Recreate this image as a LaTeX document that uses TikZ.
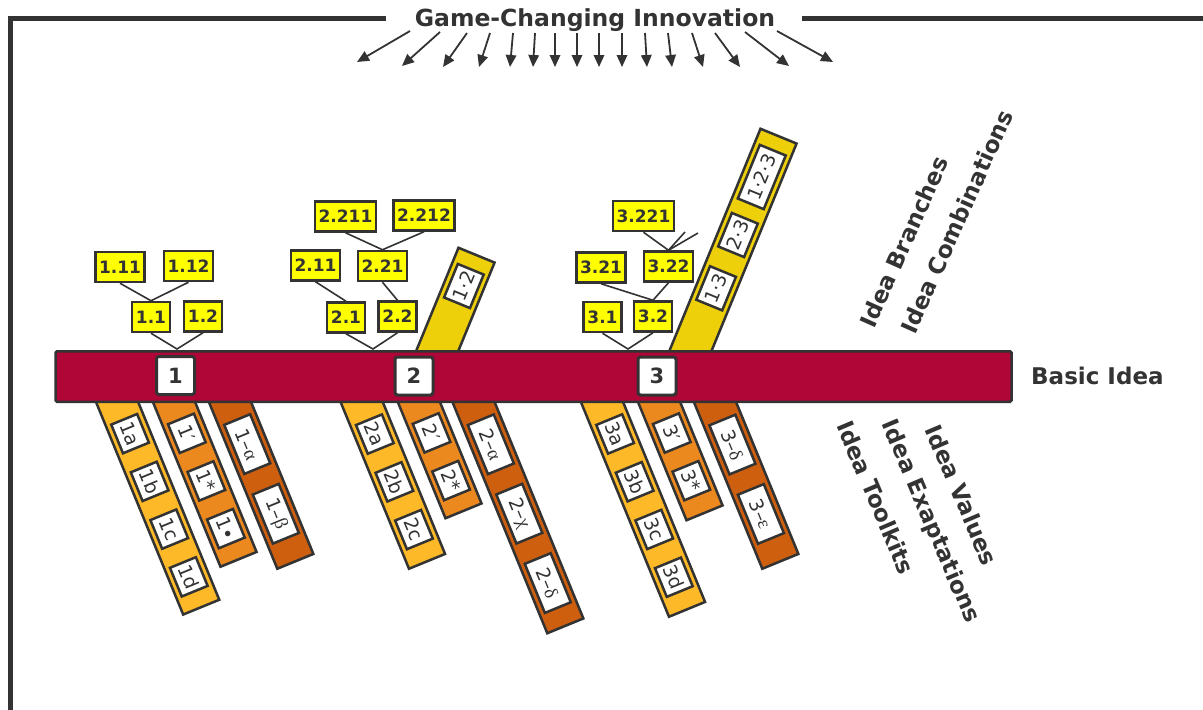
\documentclass[tikz,border=0pt]{standalone}
\usepackage{fontspec}
\setmainfont{DejaVu Sans}
\newfontfamily\greekserif{Liberation Serif}
\usetikzlibrary{arrows.meta,calc}

\definecolor{ink}{HTML}{333333}
\definecolor{crimson}{RGB}{175,5,55}
\definecolor{gold}{RGB}{253,185,39}
\definecolor{tangerine}{RGB}{236,137,30}
\definecolor{rust}{RGB}{205,95,14}
\definecolor{mustard}{RGB}{237,207,10}
\definecolor{lemon}{RGB}{255,255,0}

\newcommand{\gk}[1]{{\greekserif #1}}

\begin{document}
\begin{tikzpicture}[x=1pt,y=-1pt,
  frame/.style={draw=ink,line width=5pt,line join=miter},
  fan/.style={draw=ink,line width=1.8pt,-{Triangle[length=12pt,width=10.5pt]}},
  basebar/.style={draw=ink,line width=2.5pt,fill=crimson,rounded corners=1.5pt,inner sep=0pt},
  numbox/.style={draw=ink,line width=3pt,fill=white,rounded corners=2.5pt,
    minimum width=38pt,minimum height=38pt,inner sep=0pt,
    font=\fontsize{21}{21}\selectfont\bfseries,text=ink},
  branchbox/.style={draw=ink,line width=2.5pt,fill=lemon,minimum height=30pt,
    inner xsep=3.7pt,inner ysep=0pt,font=\fontsize{17}{17}\selectfont\bfseries,text=ink},
  link/.style={draw=ink,line width=1.6pt},
  ideabar/.style={draw=ink,line width=2.5pt,minimum height=39pt,inner sep=0pt,anchor=east},
  downbar/.style={ideabar,rotate=-67.7},
  upbar/.style={ideabar,rotate=67.7},
  tag/.style={draw=ink,line width=2.5pt,fill=white,minimum height=28pt,
    minimum width=31pt,inner xsep=3pt,inner ysep=0pt,
    font=\fontsize{19}{19}\selectfont,text=ink},
  downtag/.style={tag,rotate=-67.7},
  widetag/.style={tag,rotate=-67.7,minimum width=53pt},
  uptag/.style={tag,rotate=67.7,minimum width=36pt},
  sidelabel/.style={font=\fontsize{23}{23}\selectfont\bfseries,text=ink,inner sep=0pt}
]
\useasboundingbox (0,0) rectangle (1203,710);

% outer frame with the title set into its top edge
\draw[frame] (386,18) -- (10,18) -- (10,712);
\draw[frame] (802,18) -- (1205,18);
\node[font=\fontsize{23.5}{23.5}\selectfont\bfseries,text=ink,anchor=base,inner sep=0pt]
  (title) at (595,26.7) {Game-Changing Innovation};

% fan of arrows below the title
\foreach \sx/\sy/\ex/\ey [count=\i] in {
  410/31/357/62, 440/32/402/66, 467/33/443/67, 490/33/479/67,
  513/33/510/67, 535/33/533/67, 555/33/555/67, 577/33/577/67,
  599/33/599/67, 622/33/622/67, 645/33/647/67, 668/33/672/67,
  692/33/703/67, 715/33/740/67, 745/32/789/66, 777/31/833/62}{
  \coordinate (fs\i) at (\sx,\sy);
  \coordinate (fe\i) at (\ex,\ey);
  \draw[fan] (fs\i) -- (fe\i);
}

% slanted bars below the basic idea
\node[downbar,fill=gold,minimum width=249pt]      (b1a) at (201.7,608.3) {};
\node[downbar,fill=tangerine,minimum width=197pt] (b1p) at (239,560.5) {};
\node[downbar,fill=rust,minimum width=199pt]      (b1g) at (295.8,562.5) {};
\node[downbar,fill=gold,minimum width=199pt]      (b2a) at (427.5,562.5) {};
\node[downbar,fill=tangerine,minimum width=145pt] (b2p) at (464,512) {};
\node[downbar,fill=rust,minimum width=269pt]      (b2g) at (565.8,627) {};
\node[downbar,fill=gold,minimum width=251pt]      (b3a) at (687.5,610.5) {};
\node[downbar,fill=tangerine,minimum width=147pt] (b3p) at (705,514) {};
\node[downbar,fill=rust,minimum width=199pt]      (b3g) at (780.8,562.5) {};

% slanted combination bars above the basic idea
\node[upbar,fill=mustard,minimum width=134pt] (b12)  at (477,254) {};
\node[upbar,fill=mustard,minimum width=263pt] (b123) at (779,135) {};

% the basic idea
\node[basebar,minimum width=956pt,minimum height=50.5pt] (base) at (533.5,376.5) {};
\node[numbox] (nb1) at (175.5,375.5) {1};
\node[numbox] (nb2) at (414,376) {2};
\node[numbox] (nb3) at (657,376) {3};
\node[sidelabel,anchor=west] (basic) at (1031,376) {Basic Idea};

% branch trees
\coordinate (j1) at (177,349);
\coordinate (j2) at (373,349);
\coordinate (j3) at (628,349);

\node[branchbox] (n11)   at (151,317)     {1.1};
\node[branchbox] (n12)   at (203,316.5)   {1.2};
\node[branchbox] (n111)  at (120,267)     {1.11};
\node[branchbox] (n112)  at (188.5,266)   {1.12};

\node[branchbox] (n21)   at (346,317.5)   {2.1};
\node[branchbox] (n22)   at (397.5,316.5) {2.2};
\node[branchbox] (n211)  at (315.5,265.5) {2.11};
\node[branchbox] (n221)  at (382.5,266)   {2.21};
\node[branchbox] (n2211) at (345.5,216.5) {2.211};
\node[branchbox] (n2212) at (424,215.5)   {2.212};

\node[branchbox] (n31)   at (602.5,317)   {3.1};
\node[branchbox] (n32)   at (653,316.5)   {3.2};
\node[branchbox] (n321)  at (601,267.5)   {3.21};
\node[branchbox] (n322)  at (668.5,266.5) {3.22};
\node[branchbox] (n3221) at (643.5,216)   {3.221};
\coordinate (stubA) at (685,232);
\coordinate (stubB) at (698,233);

\draw[link] (n11.south) -- (j1) -- (n12.south);
\draw[link] (n111.south) -- (n11.north) -- (n112.south);
\draw[link] (n21.south) -- (j2) -- (n22.south);
\draw[link] (n211.south) -- (n21.north);
\draw[link] (n221.south) -- (n22.north);
\draw[link] (n2211.south) -- (n221.north) -- (n2212.south);
\draw[link] (n31.south) -- (j3) -- (n32.south);
\draw[link] (n321.south) -- (n32.north) -- (n322.south);
\draw[link] (n3221.south) -- (n322.north);
\draw[link] (n322.north) -- (stubA);
\draw[link] (n322.north) -- (stubB);

% labels on the lower bars
\node[downtag] (t1a) at ($(b1a.west)!62.7pt!(b1a.east)$)  {1a};
\node[downtag] (t1b) at ($(b1a.west)!114.3pt!(b1a.east)$) {1b};
\node[downtag] (t1c) at ($(b1a.west)!165.9pt!(b1a.east)$) {1c};
\node[downtag] (t1d) at ($(b1a.west)!217.5pt!(b1a.east)$) {1d};
\node[downtag] (t1p) at ($(b1p.west)!62pt!(b1p.east)$)    {1′};
\node[downtag] (t1s) at ($(b1p.west)!113.5pt!(b1p.east)$) {1*};
\node[downtag] (t1d2) at ($(b1p.west)!165pt!(b1p.east)$)  {1•};
\node[widetag] (t1al) at ($(b1g.west)!73.5pt!(b1g.east)$) {1–\gk{α}};
\node[widetag] (t1be) at ($(b1g.west)!148.8pt!(b1g.east)$) {1–\gk{β}};

\node[downtag] (t2a) at ($(b2a.west)!62.7pt!(b2a.east)$)  {2a};
\node[downtag] (t2b) at ($(b2a.west)!114.3pt!(b2a.east)$) {2b};
\node[downtag] (t2c) at ($(b2a.west)!165.9pt!(b2a.east)$) {2c};
\node[downtag] (t2p) at ($(b2p.west)!62pt!(b2p.east)$)    {2′};
\node[downtag] (t2s) at ($(b2p.west)!113.5pt!(b2p.east)$) {2*};
\node[widetag] (t2al) at ($(b2g.west)!74pt!(b2g.east)$)   {2–\gk{α}};
\node[widetag] (t2ch) at ($(b2g.west)!149pt!(b2g.east)$)  {2–\gk{χ}};
\node[widetag] (t2de) at ($(b2g.west)!224pt!(b2g.east)$)  {2–\gk{δ}};

\node[downtag] (t3a) at ($(b3a.west)!62.7pt!(b3a.east)$)  {3a};
\node[downtag] (t3b) at ($(b3a.west)!114.3pt!(b3a.east)$) {3b};
\node[downtag] (t3c) at ($(b3a.west)!165.9pt!(b3a.east)$) {3c};
\node[downtag] (t3d) at ($(b3a.west)!217.5pt!(b3a.east)$) {3d};
\node[downtag] (t3p) at ($(b3p.west)!62pt!(b3p.east)$)    {3′};
\node[downtag] (t3s) at ($(b3p.west)!113.5pt!(b3p.east)$) {3*};
\node[widetag] (t3de) at ($(b3g.west)!74pt!(b3g.east)$)   {3–\gk{δ}};
\node[widetag] (t3ep) at ($(b3g.west)!149pt!(b3g.east)$)  {3–\gk{ε}};

% labels on the combination bars
\node[uptag] (c12)  at ($(b12.east)!34.6pt!(b12.west)$)   {1·2};
\node[uptag,minimum width=58pt] (c123) at ($(b123.east)!45.4pt!(b123.west)$) {1·2·3};
\node[uptag] (c23)  at ($(b123.east)!108.1pt!(b123.west)$) {2·3};
\node[uptag] (c13)  at ($(b123.east)!165.7pt!(b123.west)$) {1·3};

% category captions
\node[sidelabel,rotate=66] (capbr) at (904,242)   {Idea Branches};
\node[sidelabel,rotate=66] (capco) at (956.7,221.7) {Idea Combinations};
\node[sidelabel,rotate=-67] (capto) at (876,497.5) {Idea Toolkits};
\node[sidelabel,rotate=-67] (capex) at (930,521.7) {Idea Exaptations};
\node[sidelabel,rotate=-67] (capva) at (961.7,495) {Idea Values};
\end{tikzpicture}
\end{document}
